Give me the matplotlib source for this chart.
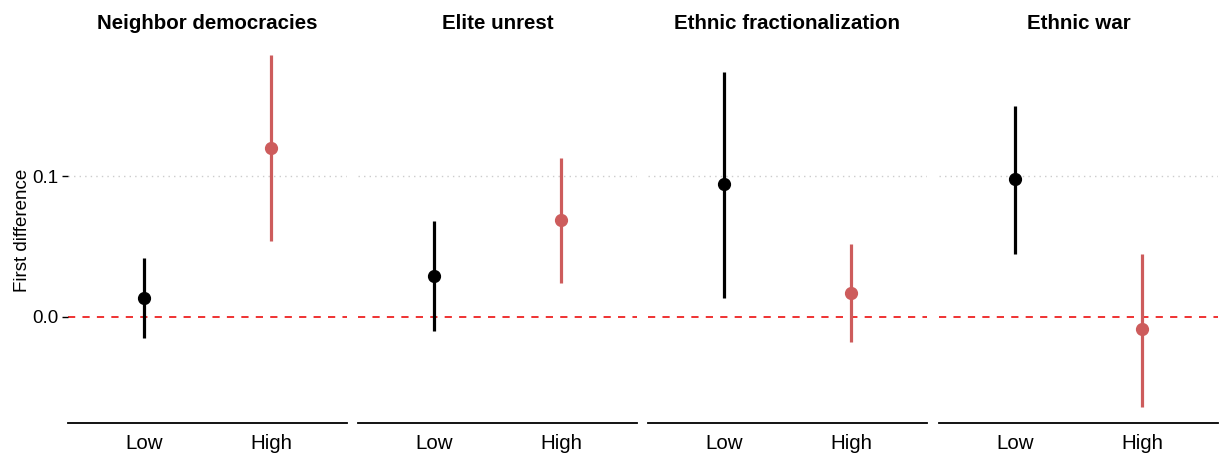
import numpy as np
import matplotlib.pyplot as plt

plt.rcParams['font.family'] = ['Liberation Sans', 'DejaVu Sans']

panels = ['Neighbor democracies', 'Elite unrest', 'Ethnic fractionalization', 'Ethnic war']
levels = ['Low', 'High']
est_low = [0.0135, 0.029, 0.094, 0.098]
lo_low = [-0.015, -0.010, 0.0135, 0.045]
hi_low = [0.042, 0.068, 0.174, 0.150]
est_high = [0.120, 0.069, 0.017, -0.0085]
lo_high = [0.054, 0.024, -0.018, -0.064]
hi_high = [0.186, 0.113, 0.052, 0.045]

colors = ['black', '#CD5C5C']

fig = plt.figure(figsize=(12.25, 4.55), dpi=100)
W, H = 1225, 455
lefts = [68, 358, 648, 939]
pw = 279
top, bot = 37, 423

for i, name in enumerate(panels):
    ax = fig.add_axes([lefts[i] / W, (H - bot) / H, pw / W, (bot - top) / H])
    ests = [est_low[i], est_high[i]]
    los = [lo_low[i], lo_high[i]]
    his = [hi_low[i], hi_high[i]]
    ax.axhline(0.1, color='#cccccc', lw=1, ls=(0, (1, 3)), zorder=0)
    ax.axhline(0, color='#ee2222', lw=1.3, ls=(0, (4, 4)), zorder=1)
    for j in range(2):
        ax.vlines(j + 1, los[j], his[j], color=colors[j], lw=2.3, zorder=2)
        ax.plot(j + 1, ests[j], 'o', color=colors[j], ms=8.5, zorder=3)
    ax.set_xlim(0.4, 2.6)
    ax.set_ylim(-0.0752, 0.1986)
    ax.set_xticks([1, 2])
    ax.set_xticklabels(levels, fontsize=14.8)
    ax.tick_params(axis='x', length=0, pad=8)
    for s in ['top', 'right', 'left']:
        ax.spines[s].set_visible(False)
    ax.spines['bottom'].set_linewidth(1.3)
    ax.set_title(name, fontsize=14.8, fontweight='bold', pad=6)
    if i == 0:
        ax.set_yticks([0.0, 0.1])
        ax.set_yticklabels(['0.0', '0.1'], fontsize=13.5)
        ax.tick_params(axis='y', length=4, width=1, pad=3)
        ax.set_ylabel('First difference', fontsize=13.5, labelpad=1)
    else:
        ax.set_yticks([])

fig.savefig('out.png', dpi=100)
